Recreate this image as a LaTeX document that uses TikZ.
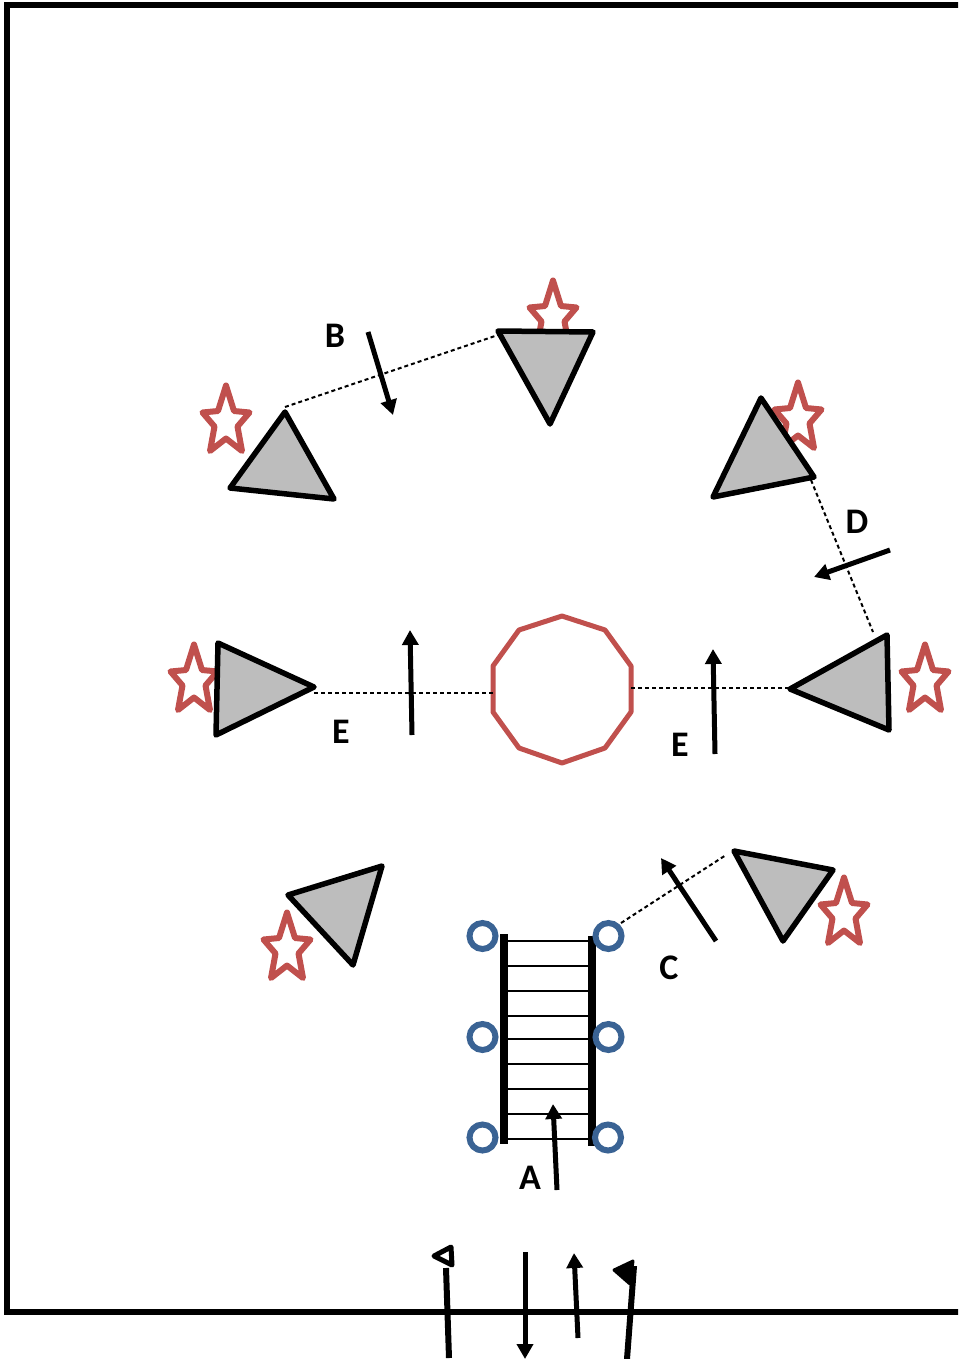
\documentclass[tikz,border=0pt]{standalone}
\usepackage{fontspec}
\setmainfont{Carlito}
\usetikzlibrary{arrows.meta}
\definecolor{starred}{HTML}{C0504D}
\definecolor{ringblue}{HTML}{3A6394}
\definecolor{trigray}{HTML}{BDBDBD}
\tikzset{
  framel/.style={draw=black,line width=5.5pt,line join=miter},
  tri/.style={draw=black,fill=trigray,line width=5.5pt,line join=round},
  starshape/.style={draw=starred,fill=white,line width=6pt,line join=round},
  deca/.style={draw=starred,fill=white,line width=5pt,line join=round},
  ring/.style={circle,draw=ringblue,fill=white,line width=6pt,minimum size=26pt,inner sep=0pt},
  rail/.style={draw=black,line width=8pt},
  rung/.style={draw=black,line width=2pt},
  dashl/.style={draw=black,line width=2pt,dash pattern=on 4pt off 3pt},
  arr/.style={draw=black,line width=5pt,-{Triangle[length=15pt,width=16pt]}},
  shaft/.style={draw=black,line width=6pt},
  lbl/.style={font=\bfseries\fontsize{36pt}{38pt}\selectfont,inner sep=0pt,text=black},
}
\newcommand{\redstar}[2]{%
  \path[starshape] (#1,#2+1.5)
  -- ++(8,25.5) -- ++(15.5,1.5) -- ++(-12,14) -- ++(4.5,24.5) -- ++(-16,-12.5)
  -- ++(-16,12.5) -- ++(4.5,-24.5) -- ++(-12,-14) -- ++(15.5,-1.5) -- cycle;}
\begin{document}
\begin{tikzpicture}[x=1pt,y=-1pt]
\useasboundingbox (0,0) rectangle (958,1359);
\clip (0,0) rectangle (958,1359);
\path[framel] (970,5) -- (7,5) -- (7,1312) -- (970,1312);

% stars
\redstar{226}{384}
\redstar{553}{279}
\redstar{798}{381}
\redstar{194}{643}
\redstar{925}{643}
\redstar{287}{911}
\redstar{844}{876}

% triangles
\path[tri] (285,412) coordinate (t1) -- (230,488) -- (334,499) -- cycle;
\path[tri] (498,331) coordinate (t2) -- (593,332) -- (550,424) -- cycle;
\path[tri] (761,398) -- (713,497) -- (814,477) -- cycle;
\path[tri] (218,643) -- (216,735) -- (314,687) -- cycle;
\path[tri] (887,635) -- (889,730) -- (790,689) -- cycle;
\path[tri] (288,895) -- (382,866) -- (353,965) -- cycle;
\path[tri] (734,851) -- (833,870) -- (783,941) -- cycle;

% central decagon
\path[deca] (562,616) -- (605,630) -- (631,666) -- (631,712) -- (605,748) -- (562,763) -- (519,748) -- (493,712) -- (493,666) -- (519,630) -- cycle;

% dashed lines
\coordinate (d1a) at (285,407); \coordinate (d1b) at (498,335);
\coordinate (d2a) at (811,480); \coordinate (d2b) at (873,632);
\coordinate (d3a) at (314,692.5); \coordinate (d3b) at (494,692.5);
\coordinate (d4a) at (631,688); \coordinate (d4b) at (790,688);
\coordinate (d5a) at (621,923); \coordinate (d5b) at (726,855);
\path[dashl] (d1a) -- (d1b);
\path[dashl] (d2a) -- (d2b);
\path[dashl] (d3a) -- (d3b);
\path[dashl] (d4a) -- (d4b);
\path[dashl] (d5a) -- (d5b);

% ladder
\foreach \y in {941,966,991,1016,1039,1064,1089,1114,1139}
  \path[rung] (506,\y) -- (590,\y);
\path[rail] (504,934) -- (504,1144);
\path[rail] (592,936) -- (592,1146);
\node[ring] (c1) at (482.5,936) {};
\node[ring] (c2) at (608.5,936) {};
\node[ring] (c3) at (482.5,1037) {};
\node[ring] (c4) at (608.5,1037) {};
\node[ring] (c5) at (482.5,1137.5) {};
\node[ring] (c6) at (608,1137.5) {};

% arrows
\coordinate (a1) at (368,332); \coordinate (a2) at (393,415);
\coordinate (a3) at (890,550); \coordinate (a4) at (814,577);
\coordinate (a5) at (412,735); \coordinate (a6) at (410,630);
\coordinate (a7) at (715,754); \coordinate (a8) at (713,649);
\coordinate (a9) at (716,941); \coordinate (a10) at (661,858);
\coordinate (a11) at (557,1190); \coordinate (a12) at (553,1104);
\path[arr] (a1) -- (a2);
\path[arr] (a3) -- (a4);
\path[arr] (a5) -- (a6);
\path[arr] (a7) -- (a8);
\path[arr] (a9) -- (a10);
\path[arr] (a11) -- (a12);

% bottom arrows
\coordinate (b1) at (449,1358); \coordinate (b2) at (446,1268);
\coordinate (b3) at (525,1252); \coordinate (b4) at (525,1359);
\coordinate (b5) at (578,1338); \coordinate (b6) at (574,1253);
\coordinate (b7) at (627,1359); \coordinate (b8) at (634,1266);
\path[shaft] (b1) -- (b2);
\path[arr] (b3) -- (b4);
\path[arr] (b5) -- (b6);
\path[shaft] (b7) -- (b8);
\path[draw=black,fill=white,line width=5pt,line join=round] (451,1247) -- (434,1256) -- (452,1265) -- cycle;
\path[draw=black,fill=black,line width=3pt,line join=round] (633,1261) -- (614,1270) -- (630,1284) -- cycle;

% labels
\node[lbl] (lB) at (335,336) {B};
\node[lbl] (lD) at (857,522) {D};
\node[lbl] (lE1) at (341,732) {E};
\node[lbl] (lE2) at (680,745) {E};
\node[lbl] (lC) at (669,968) {C};
\node[lbl] (lA) at (530,1178) {A};
\end{tikzpicture}
\end{document}
